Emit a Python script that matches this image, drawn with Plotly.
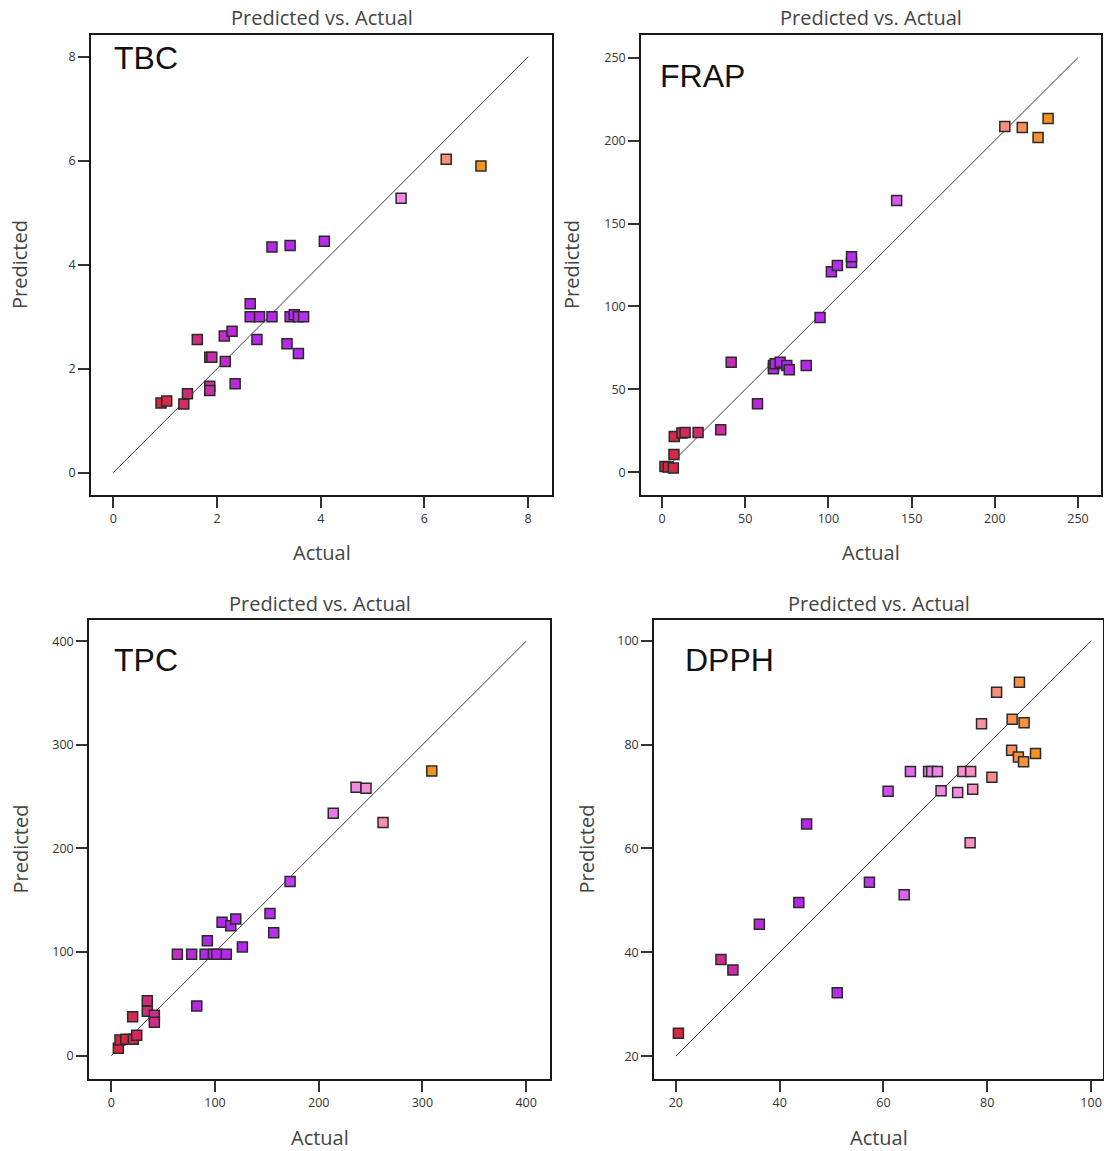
import plotly.graph_objects as go

W, H = 1104, 1151

# ---------------- data ----------------
tbc_actual = [0.92, 1.03, 1.36, 1.43, 1.62, 1.86, 1.90, 1.86, 1.86, 2.14, 2.16, 2.29, 2.35, 2.64, 2.64,
              2.77, 2.82, 3.06, 3.06, 3.41, 3.35, 3.41, 3.49, 3.57, 3.57, 3.67, 4.07, 5.55, 6.42, 7.09]
tbc_pred = [1.34, 1.38, 1.32, 1.52, 2.56, 2.22, 2.22, 1.66, 1.58, 2.63, 2.14, 2.72, 1.71, 3.25, 3.00,
            2.56, 3.00, 3.00, 4.34, 4.37, 2.48, 3.00, 3.04, 2.29, 3.00, 3.00, 4.45, 5.28, 6.03, 5.90]

frap_actual = [1.8, 3.8, 6.8, 7.2, 7.4, 12.0, 13.9, 21.7, 35.3, 41.6, 57.4, 67.0, 67.0, 68.0, 71.0,
               75.0, 76.5, 86.7, 95.0, 101.8, 105.4, 113.9, 113.9, 141.0, 206.0, 216.5, 226.0, 232.0]
frap_pred = [3.6, 3.2, 2.6, 10.8, 21.7, 23.7, 24.1, 24.1, 25.7, 66.4, 41.4, 64.5, 62.5, 65.5, 66.4,
             64.5, 61.9, 64.5, 93.4, 121.0, 124.7, 126.5, 130.0, 163.9, 208.4, 207.8, 201.8, 213.3]

tpc_actual = [6.8, 8.4, 13.9, 21.2, 24.5, 20.6, 34.7, 34.7, 41.5, 41.5, 82.4, 63.7, 77.5, 90.4, 98.4,
              101.7, 110.9, 92.6, 106.8, 115.2, 120.0, 126.4, 153.0, 156.6, 172.4, 214.0, 236.0,
              245.6, 262.0, 309.0]
tpc_pred = [7.1, 15.1, 15.8, 15.8, 19.7, 37.6, 53.0, 43.0, 39.0, 32.2, 48.0, 98.0, 98.0, 98.0, 98.0,
            98.0, 98.0, 111.0, 128.7, 125.4, 132.0, 105.0, 137.3, 118.6, 168.2, 234.0, 259.0,
            258.0, 225.0, 274.7]

dpph_actual = [20.5, 28.7, 31.0, 36.1, 43.7, 45.2, 51.1, 57.3, 64.0, 60.9, 65.2, 68.7, 69.3, 70.4,
               71.1, 74.3, 75.3, 76.8, 77.2, 76.7, 78.9, 80.9, 81.8, 84.7, 86.0, 87.0, 84.8, 86.2,
               87.1, 89.3]
dpph_pred = [24.4, 38.6, 36.6, 45.4, 49.6, 64.7, 32.2, 53.5, 51.1, 71.0, 74.8, 74.8, 74.8, 74.8,
             71.1, 70.8, 74.8, 74.8, 71.4, 61.1, 84.0, 73.7, 90.1, 78.9, 77.6, 76.7, 84.9, 92.0,
             84.2, 78.3]

panels = [
    dict(name="TBC", actual=tbc_actual, pred=tbc_pred, diag=[0, 8], ticks=[0, 2, 4, 6, 8],
         xr=[-0.43, 8.46], yr=[-0.43, 8.42], box=(91, 552, 35, 495), lab=(112, 58), ytl=20),
    dict(name="FRAP", actual=frap_actual, pred=frap_pred, diag=[0, 250], ticks=[0, 50, 100, 150, 200, 250],
         xr=[-12.6, 263.8], yr=[-13.6, 263.6], box=(641, 1101, 35, 495), lab=(658, 76), ytl=572),
    dict(name="TPC", actual=tpc_actual, pred=tpc_pred, diag=[0, 400], ticks=[0, 100, 200, 300, 400],
         xr=[-21.5, 423.0], yr=[-22.5, 420.5], box=(89, 550, 620, 1079), lab=(112, 660), ytl=20),
    dict(name="DPPH", actual=dpph_actual, pred=dpph_pred, diag=[20, 100], ticks=[20, 40, 60, 80, 100],
         xr=[15.8, 102.3], yr=[15.6, 104.0], box=(654, 1103, 620, 1079), lab=(683, 660), ytl=586),
]

colorscale = [
    [0.00, "#D6283E"],
    [0.05, "#D42A55"],
    [0.10, "#D02C7E"],
    [0.15, "#CC2CA6"],
    [0.20, "#C02CCE"],
    [0.27, "#B426E8"],
    [0.52, "#B82EF0"],
    [0.62, "#DA5EF0"],
    [0.72, "#F282EA"],
    [0.80, "#F890D8"],
    [0.87, "#F8908E"],
    [0.93, "#F8905A"],
    [1.00, "#F8921E"],
]

fig = go.Figure()
annotations = []
FONT = "Open Sans"

for i, p in enumerate(panels, start=1):
    xa = "x" if i == 1 else f"x{i}"
    ya = "y" if i == 1 else f"y{i}"
    x0, x1, y0, y1 = p["box"]
    fig.add_trace(go.Scatter(x=p["diag"], y=p["diag"], mode="lines",
                             line=dict(color="#3a3a3a", width=1), xaxis=xa, yaxis=ya,
                             hoverinfo="skip", showlegend=False))
    fig.add_trace(go.Scatter(x=p["actual"], y=p["pred"], mode="markers", xaxis=xa, yaxis=ya,
                             showlegend=False,
                             marker=dict(symbol="square", size=10, color=p["actual"],
                                         colorscale=colorscale, cmin=min(p["actual"]),
                                         cmax=max(p["actual"]), showscale=False,
                                         line=dict(color="#2a2a2a", width=1.5))))
    axis_common = dict(showline=True, mirror=True, linecolor="#1a1a1a", linewidth=1.5,
                       ticks="outside", ticklen=11, tickwidth=1.5, tickcolor="#333333",
                       tickfont=dict(family=FONT, size=12.5, color="#333333"),
                       showgrid=False, zeroline=False, tickvals=p["ticks"])
    xkey = "xaxis" if i == 1 else f"xaxis{i}"
    ykey = "yaxis" if i == 1 else f"yaxis{i}"
    fig.layout[xkey] = dict(axis_common, domain=[x0 / W, x1 / W], range=p["xr"],
                            anchor=ya)
    fig.layout[ykey] = dict(axis_common, domain=[1 - y1 / H, 1 - y0 / H], range=p["yr"],
                            anchor=xa)
    cx = (x0 + x1) / 2 / W
    # title
    annotations.append(dict(text="Predicted vs. Actual", x=cx, y=1 - (y0 - 17) / H, xref="paper",
                            yref="paper", showarrow=False, xanchor="center", yanchor="middle",
                            font=dict(family=FONT, size=20, color="#444444")))
    # x title
    annotations.append(dict(text="Actual", x=cx, y=1 - (y1 + 58) / H, xref="paper", yref="paper",
                            showarrow=False, xanchor="center", yanchor="middle", borderpad=0,
                            font=dict(family=FONT, size=20, color="#444444")))
    # y title
    annotations.append(dict(text="Predicted", x=p["ytl"] / W, y=1 - (y0 + y1) / 2 / H, xref="paper",
                            yref="paper", showarrow=False, xanchor="center", yanchor="middle",
                            textangle=-90, font=dict(family=FONT, size=20, color="#444444")))
    # big label
    lx, ly = p["lab"]
    annotations.append(dict(text=p["name"], x=lx / W, y=1 - ly / H, xref="paper", yref="paper",
                            showarrow=False, xanchor="left", yanchor="middle",
                            font=dict(family="Liberation Sans", size=32, color="#111111")))

fig.update_layout(width=W, height=H, margin=dict(l=0, r=0, t=0, b=0),
                  paper_bgcolor="white", plot_bgcolor="white", annotations=annotations)

fig.write_html("out.html")
